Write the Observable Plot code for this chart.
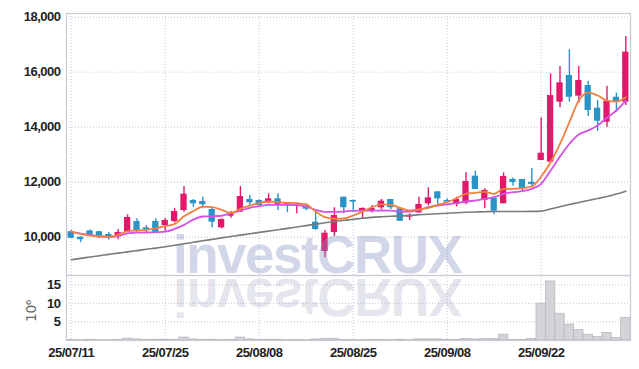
<!DOCTYPE html>
<html><head><meta charset="utf-8">
<script src="https://cdn.jsdelivr.net/npm/d3@7"></script>
<script src="https://cdn.jsdelivr.net/npm/@observablehq/plot@0.6"></script>
<style>
body{margin:0;background:#fff;}
#wrap{position:relative;width:639px;height:369px;overflow:hidden;background:#fff;}
#wrap svg{position:absolute;left:0;}
</style></head><body><div id="wrap"></div>
<script>
const dates = ["25/07/11","25/07/14","25/07/15","25/07/16","25/07/17","25/07/18","25/07/21","25/07/22","25/07/23","25/07/24","25/07/25",
"25/07/28","25/07/29","25/07/30","25/07/31","25/08/01","25/08/04","25/08/05","25/08/06","25/08/07","25/08/08",
"25/08/11","25/08/12","25/08/13","25/08/14","25/08/18","25/08/19","25/08/20","25/08/21","25/08/22","25/08/25",
"25/08/26","25/08/27","25/08/28","25/08/29","25/09/01","25/09/02","25/09/03","25/09/04","25/09/05","25/09/08",
"25/09/09","25/09/10","25/09/11","25/09/12","25/09/15","25/09/16","25/09/17","25/09/18","25/09/19","25/09/22",
"25/09/23","25/09/24","25/09/25","25/09/26","25/09/29","25/09/30","25/10/01","25/10/02","25/10/10"];

const open = [10200,10000,10230,10200,10100,10040,10180,10570,10340,10570,
10425,10570,10970,11335,11300,11007,10340,10765,10910,11370,
11335,11250,11395,11250,11150,11115,10545,9480,10170,11455,
11335,10970,10970,11070,11370,11030,10730,10885,11215,11650,
11335,11190,11240,12220,11335,11420,11215,12100,12100,12000,
12790,12730,14910,15880,15130,15515,14690,14180,15090,14910];

const high = [10230,10010,10260,10210,10170,10280,10815,10670,10420,10670,
10680,11050,11840,11370,11455,11070,10670,10935,11843,11516,
11350,11580,11580,11250,11240,11200,10910,10245,11070,11455,
11340,11070,11150,11370,11370,11070,10850,11455,11795,11650,
11400,11455,12340,12400,11760,11420,12340,12150,12100,12500,
14340,15940,16205,16815,16205,15670,14970,15490,15240,17300];

const low = [9950,9800,10050,9960,9900,9905,10160,10180,10140,10180,
10220,10520,10910,11090,11033,10340,10305,10690,10900,11150,
11150,11215,10970,10890,10850,10960,10245,9250,10025,10850,
10910,10645,10880,11000,11010,10580,10607,10873,11140,11150,
11275,11100,11180,11735,11030,10815,11215,11860,11635,11820,
12790,12700,14705,14910,14870,14390,13850,14000,14545,14790];

const close = [9960,9910,10060,9980,10000,10170,10716,10207,10270,10180,
10607,10935,11565,11215,11180,10545,10643,10850,11480,11250,
11150,11395,11150,11150,11190,11020,10280,10145,10790,11070,
11275,11045,11045,11310,11070,10580,10790,11190,11430,11395,
11275,11370,12025,11735,11700,10945,12207,11990,11760,11915,
13055,15150,15615,15090,15700,14607,14218,14945,14935,16730];

const volume = [0.15,0.1,0.2,0.1,0.1,0.15,0.5,0.3,0.15,0.2,
0.2,0.15,0.8,0.3,0.15,0.2,0.1,0.15,0.8,0.3,
0.15,0.2,0.2,0.1,0.15,0.1,0.25,0.45,0.45,0.15,
0.1,0.1,0.15,0.15,0.1,0.2,0.1,0.3,0.3,0.3,
0.15,0.15,0.4,0.25,0.4,0.4,1.55,0.15,0.15,0.4,
9.9,15.9,7.2,4.3,2.8,1.55,0.9,2.0,0.65,6.1];

const ma5 = [10207,10120,10060,10035,10010,10090,10218,10243,10268,10320,
10400,10480,10760,10950,11110,11090,10996,10873,11030,11150,
11236,11298,11273,11250,11236,11190,10935,10727,10670,10680,
10790,10935,11090,11190,11178,11070,10970,11007,11070,11178,
11273,11418,11578,11615,11650,11578,11760,11760,11782,11843,
12207,12727,13396,14181,14970,15260,15152,14970,14934,15090];

const ma10 = [10207,10130,10085,10040,10010,10040,10140,10165,10170,10182,
10200,10300,10450,10640,10753,10760,10780,10873,10970,11070,
11127,11178,11178,11178,11170,11115,10996,10920,10920,10935,
10960,10965,10965,10970,10965,10935,10935,10996,11090,11153,
11190,11236,11298,11335,11395,11455,11578,11636,11673,11760,
11942,12424,12933,13396,13734,13880,14062,14342,14607,14970];

const maLong = [9178,9229,9280,9327,9375,9422,9466,9513,9560,9604,
9655,9705,9760,9815,9869,9920,9975,10025,10076,10127,
10175,10222,10269,10320,10371,10422,10473,10524,10571,10615,
10651,10687,10720,10742,10760,10771,10793,10814,10836,10855,
10873,10891,10905,10916,10927,10934,10934,10934,10934,10938,
10949,11025,11105,11189,11262,11334,11407,11480,11571,11673];

const tickDates = ["25/07/11","25/07/25","25/08/08","25/08/25","25/09/08","25/09/22"];
const priceTicks = [10000,12000,14000,16000,18000];
const volTicks = [5,10,15];

const data = dates.map((d, i) => ({date: d, open: open[i], high: high[i], low: low[i], close: close[i],
  volume: volume[i], ma5: ma5[i], ma10: ma10[i], maL: maLong[i]}));

const UP = "#e2196b", DOWN = "#2b93c7";
const GRID = {stroke: "#c3c6d8", strokeDasharray: "1,2", strokeWidth: 1};
const FRAME = {stroke: "#c9cad3", strokeWidth: 1.2};
const font = "'Liberation Sans',Arial,sans-serif";
const style = {fontFamily: font, fontSize: "13px", fontWeight: "bold", letterSpacing: "-0.5px", color: "#222", background: "transparent", overflow: "visible"};
const candleColor = d => d.close >= d.open ? UP : DOWN;
const fmt = d3.format(",");

const pricePlot = Plot.plot({
  width: 639, height: 276, marginTop: 13, marginBottom: 1, marginLeft: 66, marginRight: 9,
  style,
  x: {type: "band", domain: dates, paddingInner: 0.33, paddingOuter: 0.165, round: false, axis: null},
  y: {domain: [8607, 18135], ticks: priceTicks, tickFormat: d => fmt(d), tickSize: 0, tickPadding: 6, label: null},
  color: {type: "identity"},
  marks: [
    Plot.ruleY(priceTicks, GRID),
    Plot.ruleX(tickDates, GRID),
    Plot.ruleX(data, {x: "date", y1: "low", y2: "high", stroke: candleColor, strokeWidth: 1.4}),
    Plot.barY(data, {x: "date", y1: "open", y2: "close", fill: candleColor}),
    Plot.lineY(data, {x: "date", y: "maL", stroke: "#7b7b7b", strokeWidth: 1.6, curve: "monotone-x"}),
    Plot.lineY(data, {x: "date", y: "ma10", stroke: "#d452e6", strokeWidth: 1.8, curve: "monotone-x"}),
    Plot.lineY(data, {x: "date", y: "ma5", stroke: "#f0803e", strokeWidth: 1.8, curve: "monotone-x"}),
    Plot.frame(FRAME)
  ]
});
pricePlot.style.top = "0px";

const volumePlot = Plot.plot({
  width: 639, height: 94, marginTop: 0, marginBottom: 29, marginLeft: 66, marginRight: 9,
  style,
  x: {type: "band", domain: dates, paddingInner: 0, paddingOuter: 0, round: false, ticks: tickDates, tickSize: 0, tickPadding: 7, label: null},
  y: {domain: [0, 17.5], ticks: volTicks, tickSize: 0, tickPadding: 6, label: null},
  marks: [
    Plot.ruleY(volTicks, GRID),
    Plot.ruleX(tickDates, GRID),
    Plot.barY(data, {x: "date", y: "volume", fill: "#d3d4d8", stroke: "#b9bac0", strokeWidth: 0.8}),
    Plot.text(["10⁶"], {frameAnchor: "left", textAnchor: "middle", dx: -35, dy: 3, rotate: -90, fill: "#666", fontWeight: "normal", letterSpacing: "0px", fontSize: 14, fontFamily: "'DejaVu Sans',sans-serif"}),
    Plot.frame(FRAME)
  ]
});
volumePlot.style.top = "275px";

const wrap = document.getElementById("wrap");
wrap.appendChild(pricePlot);
wrap.appendChild(volumePlot);

// watermark overlay
const wm = d3.create("svg").attr("width", 639).attr("height", 369)
  .style("position", "absolute").style("top", "0px").style("pointer-events", "none");
wm.append("text").attr("x", 173).attr("y", 273)
  .attr("font-family", "'Liberation Sans','Arial',sans-serif").attr("font-weight", "bold")
  .attr("font-size", 53).attr("letter-spacing", -1.5)
  .attr("fill", "#7f90c2").attr("fill-opacity", 0.36).text("investCRUX");
wm.append("g").attr("transform", "translate(0,552) scale(1,-1)")
  .append("text").attr("x", 173).attr("y", 273)
  .attr("font-family", "'Liberation Sans','Arial',sans-serif").attr("font-weight", "bold")
  .attr("font-size", 53).attr("letter-spacing", -1.5)
  .attr("fill", "#8c8cae").attr("fill-opacity", 0.22).text("investCRUX");
wrap.appendChild(wm.node());
</script>
</body></html>
